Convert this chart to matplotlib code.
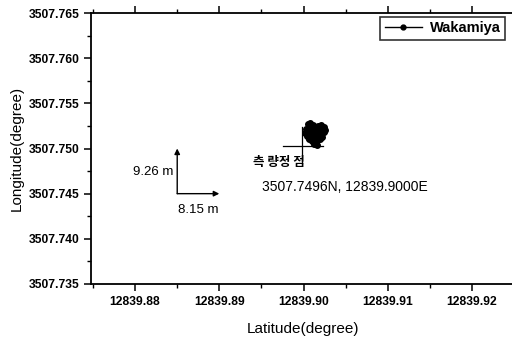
import matplotlib
matplotlib.use("Agg")
import matplotlib.pyplot as plt
from matplotlib.ticker import MultipleLocator, FormatStrFormatter

plt.rcParams['font.family'] = ['Liberation Sans', 'Noto Sans CJK KR', 'DejaVu Sans']

# Wakamiya position cluster
lat = [12839.9005, 12839.9008, 12839.9011, 12839.9014, 12839.9017, 12839.9021, 12839.9024,
       12839.9025, 12839.9022, 12839.9019, 12839.9015, 12839.9012, 12839.9009, 12839.9006,
       12839.9003, 12839.9002, 12839.9004, 12839.9007, 12839.9010, 12839.9013, 12839.9016,
       12839.9019, 12839.9022, 12839.9024, 12839.9020, 12839.9017, 12839.9014, 12839.9011,
       12839.9008, 12839.9006, 12839.9009, 12839.9012, 12839.9015, 12839.9016, 12839.9013,
       12839.9010, 12839.9007, 12839.9011, 12839.9014, 12839.9012]
lon = [3507.7527, 3507.7528, 3507.7526, 3507.7524, 3507.7525, 3507.7526, 3507.7524,
       3507.7520, 3507.7517, 3507.7515, 3507.7514, 3507.7516, 3507.7518, 3507.7520,
       3507.7522, 3507.7517, 3507.7514, 3507.7512, 3507.7510, 3507.7508, 3507.7509,
       3507.7511, 3507.7513, 3507.7518, 3507.7521, 3507.7522, 3507.7519, 3507.7521,
       3507.7523, 3507.7518, 3507.7513, 3507.7511, 3507.7507, 3507.7504, 3507.7505,
       3507.7508, 3507.7510, 3507.7516, 3507.7512, 3507.7506]
series_name = "Wakamiya"

# reference point crosshair
ref_x = 12839.89985
ref_y = 3507.7503
cross_h = [12839.8976, 12839.9023]
cross_v = [3507.7524, 3507.7484]

# scale arrows
arrow_origin = (12839.885, 3507.745)
arrow_x_end = 12839.890
arrow_y_end = 3507.750
label_ns = "9.26 m"
label_ew = "8.15 m"
point_label = "측 량정 점"
coord_label = "3507.7496N, 12839.9000E"

xlim = (12839.87476, 12839.92500)
ylim = (3507.735, 3507.765)

fig = plt.figure(figsize=(5.12, 3.45), dpi=100)
ax = fig.add_axes([91/512, 1-284/345, 423/512, (284-13)/345])

ax.plot(lat, lon, color='black', lw=1.0, marker='o', ms=4.0, label=series_name)

ax.plot(cross_h, [ref_y, ref_y], color='black', lw=0.9)
ax.plot([ref_x, ref_x], cross_v, color='black', lw=0.9)

ax.annotate('', xy=(arrow_x_end, arrow_origin[1]), xytext=arrow_origin,
            arrowprops=dict(arrowstyle='-|>', color='black', lw=1.0, mutation_scale=8,
                            shrinkA=0, shrinkB=0))
ax.annotate('', xy=(arrow_origin[0], arrow_y_end), xytext=arrow_origin,
            arrowprops=dict(arrowstyle='-|>', color='black', lw=1.0, mutation_scale=8,
                            shrinkA=0, shrinkB=0))

ax.text(12839.87976, 3507.7474, label_ns, fontsize=9.5, va='center', ha='left')
ax.text(12839.88512, 3507.7432, label_ew, fontsize=9.5, va='center', ha='left')
ax.text(12839.89405, 3507.7484, point_label, fontsize=9, va='center', ha='left',
        family=['Noto Sans CJK KR'], fontweight='bold')
ax.text(12839.89512, 3507.74575, coord_label, fontsize=10, va='center', ha='left')

ax.set_xlim(*xlim)
ax.set_ylim(*ylim)
ax.xaxis.set_major_locator(MultipleLocator(0.01))
ax.xaxis.set_minor_locator(MultipleLocator(0.005))
ax.yaxis.set_major_locator(MultipleLocator(0.005))
ax.yaxis.set_minor_locator(MultipleLocator(0.0025))
ax.xaxis.set_major_formatter(FormatStrFormatter('%.2f'))
ax.yaxis.set_major_formatter(FormatStrFormatter('%.3f'))

ax.tick_params(which='major', direction='out', length=5, width=1.1, labelsize=8.7)
ax.tick_params(which='minor', direction='out', length=3, width=1.0)
ax.tick_params(axis='x', which='both', top=True)
for lab in ax.get_xticklabels() + ax.get_yticklabels():
    lab.set_fontweight('bold')
for s in ax.spines.values():
    s.set_linewidth(1.3)
ax.spines['right'].set_visible(False)

ax.set_xlabel('Latitude(degree)', fontsize=11, labelpad=10)
ax.set_ylabel('Longitude(degree)', fontsize=11, labelpad=3)

leg = ax.legend(loc='upper right', bbox_to_anchor=((505-91)/423, 1 - 4/271),
                frameon=True, fancybox=False, edgecolor='black', handlelength=2.6,
                borderpad=0.3, handletextpad=0.5, borderaxespad=0,
                prop={'size': 10.5, 'weight': 'bold'})
leg.get_frame().set_linewidth(1.2)
leg.get_lines()[0].set_markersize(3.5)

fig.savefig('out.png', dpi=100)
